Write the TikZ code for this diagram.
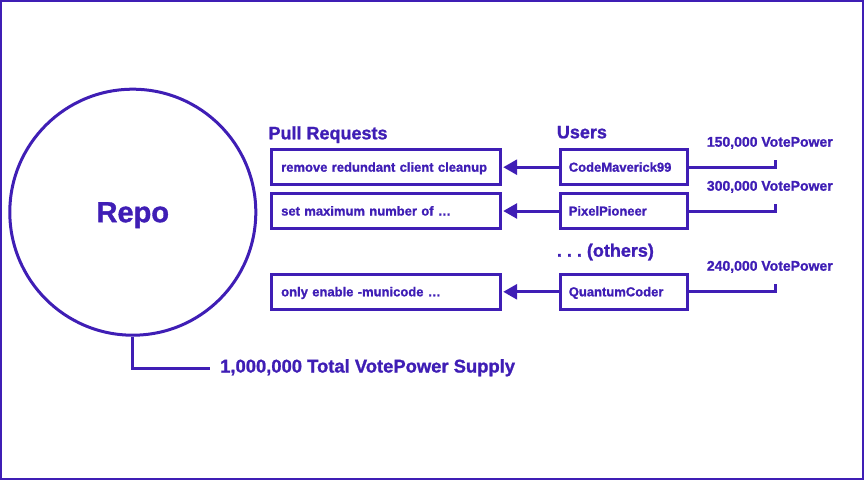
\documentclass[tikz,border=0pt]{standalone}
\usepackage{fontspec}
\setmainfont{Liberation Sans}[BoldFeatures={FakeBold=1.2}]
\usetikzlibrary{arrows.meta}
\definecolor{vpink}{RGB}{63,30,181}
\begin{document}
\begin{tikzpicture}[x=1pt, y=-1pt,
    every node/.style={text=vpink, font=\bfseries},
    ink/.style={draw=vpink, line width=3pt},
    prbox/.style={ink, rectangle, anchor=west, minimum width=229pt, minimum height=35pt,
        inner xsep=10pt, text width=209pt, align=left, text height=10pt, text depth=1pt,
        font=\fontsize{13}{15}\selectfont\bfseries},
    userbox/.style={prbox, minimum width=127.6pt, inner xsep=8.6pt, text width=110.4pt},
    heading/.style={anchor=base west, inner sep=0pt, font=\fontsize{18}{20}\selectfont\bfseries},
    power/.style={anchor=base west, inner sep=0pt, font=\fontsize{14}{16}\selectfont\bfseries},
    vote/.style={ink, -{Triangle[length=14pt, width=15pt]}, shorten >=1.5pt}]
    \useasboundingbox (0,0) rectangle (864,480);
    % Draw the frame
    \draw[draw=vpink, line width=2.4pt] (1.2,1.2) rectangle (862.8,478.8);

    % The repo and its total supply
    \node[ink, circle, minimum size=246pt, inner sep=0pt, text depth=0pt,
        font=\fontsize{29}{31}\selectfont\bfseries] (repo) at (132.8,212.2) {Repo};
    \node[anchor=west, inner sep=0pt, inner xsep=10pt, text height=13pt, text depth=4pt,
        font=\fontsize{18.4}{20}\selectfont\bfseries] (supply) at (210,368) {1,000,000 Total VotePower Supply};
    \draw[ink] (repo.south) |- (supply.west);

    % Column headings
    \node[heading] (prhead) at (268.3,139.3) {Pull Requests};
    \node[heading] (userhead) at (556.7,138.3) {Users};
    \node[heading] (others) at (556.7,256.7) {.\ .\ .\ (others)};

    % Pull requests
    \node[prbox] (pr1) at (269.7,167.2) {remove redundant client cleanup};
    \node[prbox] (pr2) at (269.7,211) {set maximum number of \dots};
    \node[prbox] (pr3) at (269.7,291.8) {only enable -municode \dots};

    % Users
    \node[userbox] (user1) at (558.7,167.2) {CodeMaverick99};
    \node[userbox] (user2) at (558.7,211) {PixelPioneer};
    \node[userbox] (user3) at (558.7,291.8) {QuantumCoder};

    % Vote power of each user
    \node[power] (power1) at (706.7,146.7) {150,000 VotePower};
    \node[power] (power2) at (706.7,190.7) {300,000 VotePower};
    \node[power] (power3) at (706.7,270.7) {240,000 VotePower};
    \coordinate (tick1) at (775.5,160);
    \coordinate (tick2) at (775.5,203.5);
    \coordinate (tick3) at (775.5,284.3);

    % Votes and brackets
    \foreach \i in {1,2,3} {
        \draw[vote] (user\i.west) -- (pr\i.east);
        \draw[ink] (user\i.east) -| (tick\i);
    }
\end{tikzpicture}
\end{document}
